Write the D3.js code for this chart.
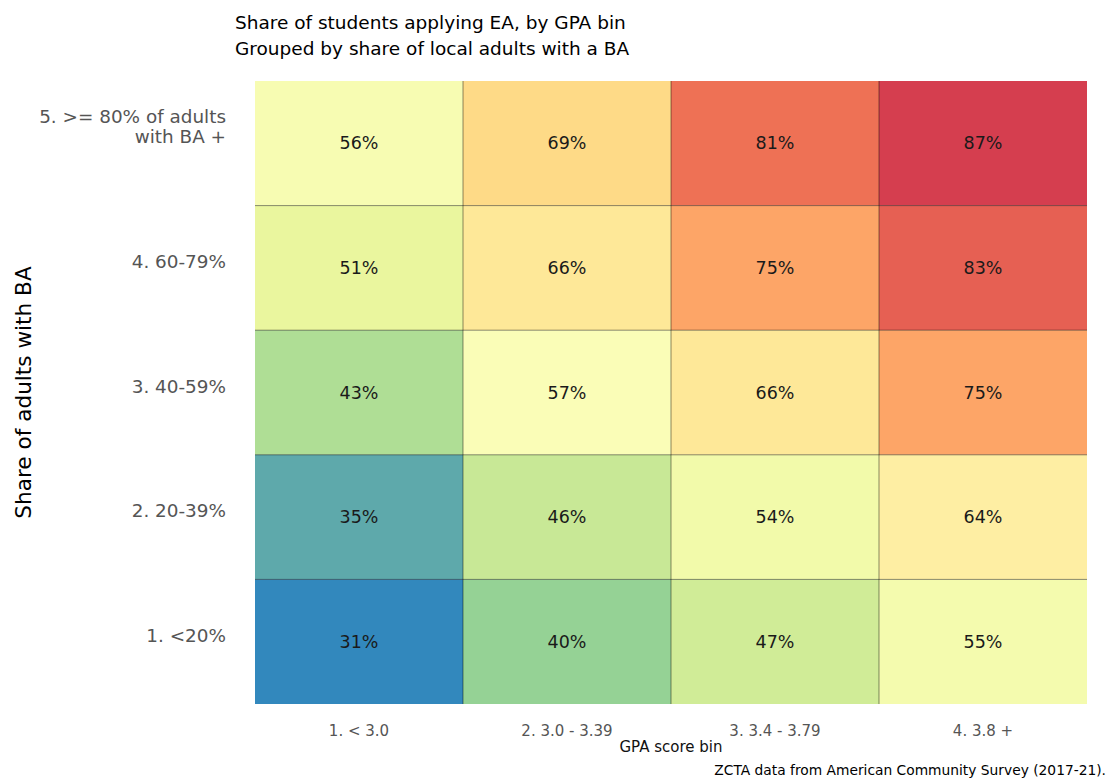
<!DOCTYPE html>
<html>
<head>
<meta charset="utf-8">
<script src="https://cdn.jsdelivr.net/npm/d3@7"></script>
<style>
  html, body { margin: 0; padding: 0; background: #fff; }
  svg text { font-family: "DejaVu Sans", sans-serif; }
</style>
</head>
<body>
<svg id="chart" width="1109" height="778"></svg>
<script>
// ---- data ----
const gpaBins = ["1. < 3.0", "2. 3.0 - 3.39", "3. 3.4 - 3.79", "4. 3.8 +"];
const baGroups = ["5. >= 80% of adults\nwith BA +", "4. 60-79%", "3. 40-59%", "2. 20-39%", "1. <20%"];
// values per BA group (rows, top to bottom), per GPA bin (columns)
const row5 = [56, 69, 81, 87];
const row4 = [51, 66, 75, 83];
const row3 = [43, 57, 66, 75];
const row2 = [35, 46, 54, 64];
const row1 = [31, 40, 47, 55];
const rowValues = [row5, row4, row3, row2, row1];

const titleLines = ["Share of students applying EA, by GPA bin", "Grouped by share of local adults with a BA"];
const xTitle = "GPA score bin";
const yTitle = "Share of adults with BA";
const footnote = "ZCTA data from American Community Survey (2017-21).";

// ---- layout ----
const svg = d3.select("#chart");
const plot = { left: 255, right: 1087, top: 81, bottom: 704 };

const cells = [];
baGroups.forEach((g, i) => gpaBins.forEach((b, j) => cells.push({ g, b, v: rowValues[i][j] })));

const x = d3.scaleBand().domain(gpaBins).range([plot.left, plot.right]).padding(0);
const y = d3.scaleBand().domain(baGroups).range([plot.top, plot.bottom]).padding(0);

const allVals = cells.map(d => d.v);
const vmin = d3.min(allVals), vmax = d3.max(allVals);
const spectral = d3.schemeSpectral[7].slice().reverse();
const color = d3.scaleLinear()
  .domain(d3.range(7).map(k => vmin + (vmax - vmin) * k / 6))
  .range(spectral)
  .interpolate(d3.interpolateRgb);

// cells
svg.append("g").selectAll("rect").data(cells).join("rect")
  .attr("x", d => x(d.b))
  .attr("y", d => y(d.g))
  .attr("width", x.bandwidth())
  .attr("height", y.bandwidth())
  .attr("fill", d => color(d.v));

// interior grid lines
const grid = svg.append("g").attr("stroke", "#000").attr("stroke-opacity", 0.45).attr("stroke-width", 1);
gpaBins.slice(1).forEach(b => {
  grid.append("line").attr("x1", x(b)).attr("x2", x(b)).attr("y1", plot.top).attr("y2", plot.bottom);
});
baGroups.slice(1).forEach(g => {
  grid.append("line").attr("x1", plot.left).attr("x2", plot.right).attr("y1", y(g)).attr("y2", y(g));
});

// cell labels
svg.append("g").selectAll("text").data(cells).join("text")
  .attr("x", d => x(d.b) + x.bandwidth() / 2)
  .attr("y", d => y(d.g) + y.bandwidth() / 2)
  .attr("text-anchor", "middle")
  .attr("dominant-baseline", "central")
  .attr("font-size", 17.5)
  .attr("fill", "#1a1a1a")
  .text(d => d.v + "%");

// x axis labels
const xAxis = d3.axisBottom(x).tickSize(0).tickPadding(0);
const gx = svg.append("g").attr("transform", `translate(0,${plot.bottom})`).call(xAxis);
gx.select(".domain").remove();
gx.selectAll("text")
  .attr("y", 27)
  .attr("dy", "0.32em")
  .attr("font-size", 15)
  .attr("font-family", "DejaVu Sans, sans-serif")
  .attr("fill", "#555");

// y axis labels (multi-line, last line baseline at row centre)
const yAxis = d3.axisLeft(y).tickSize(0).tickPadding(0).tickFormat(() => "");
const gy = svg.append("g").attr("transform", `translate(${plot.left},0)`).call(yAxis);
gy.select(".domain").remove();
gy.selectAll(".tick").each(function(d) {
  const lines = d.split("\n");
  const t = d3.select(this).select("text")
    .attr("x", -29)
    .attr("y", 0)
    .attr("text-anchor", "end")
    .attr("font-size", 18.4)
    .attr("font-family", "DejaVu Sans, sans-serif")
    .attr("fill", "#555");
  lines.forEach((ln, k) => {
    t.append("tspan")
      .attr("x", -29)
      .attr("y", (k - (lines.length - 1)) * 20 + 0)
      .attr("dy", "0")
      .text(ln);
  });
});

// axis titles
svg.append("text")
  .attr("x", (plot.left + plot.right) / 2)
  .attr("y", 747)
  .attr("dominant-baseline", "central")
  .attr("text-anchor", "middle")
  .attr("font-size", 15)
  .attr("fill", "#111")
  .text(xTitle);

svg.append("text")
  .attr("transform", `translate(23,${(plot.top + plot.bottom) / 2}) rotate(-90)`)
  .attr("text-anchor", "middle")
  .attr("dominant-baseline", "central")
  .attr("font-size", 21.6)
  .attr("fill", "#000")
  .text(yTitle);

// title
svg.append("g").selectAll("text").data(titleLines).join("text")
  .attr("x", 235)
  .attr("y", (d, i) => 22 + i * 26)
  .attr("dominant-baseline", "central")
  .attr("font-size", 18.5)
  .attr("fill", "#000")
  .text(d => d);

// footnote
svg.append("text")
  .attr("x", 1106)
  .attr("y", 770)
  .attr("text-anchor", "end")
  .attr("dominant-baseline", "central")
  .attr("font-size", 13.8)
  .attr("fill", "#000")
  .text(footnote);
</script>
</body>
</html>
